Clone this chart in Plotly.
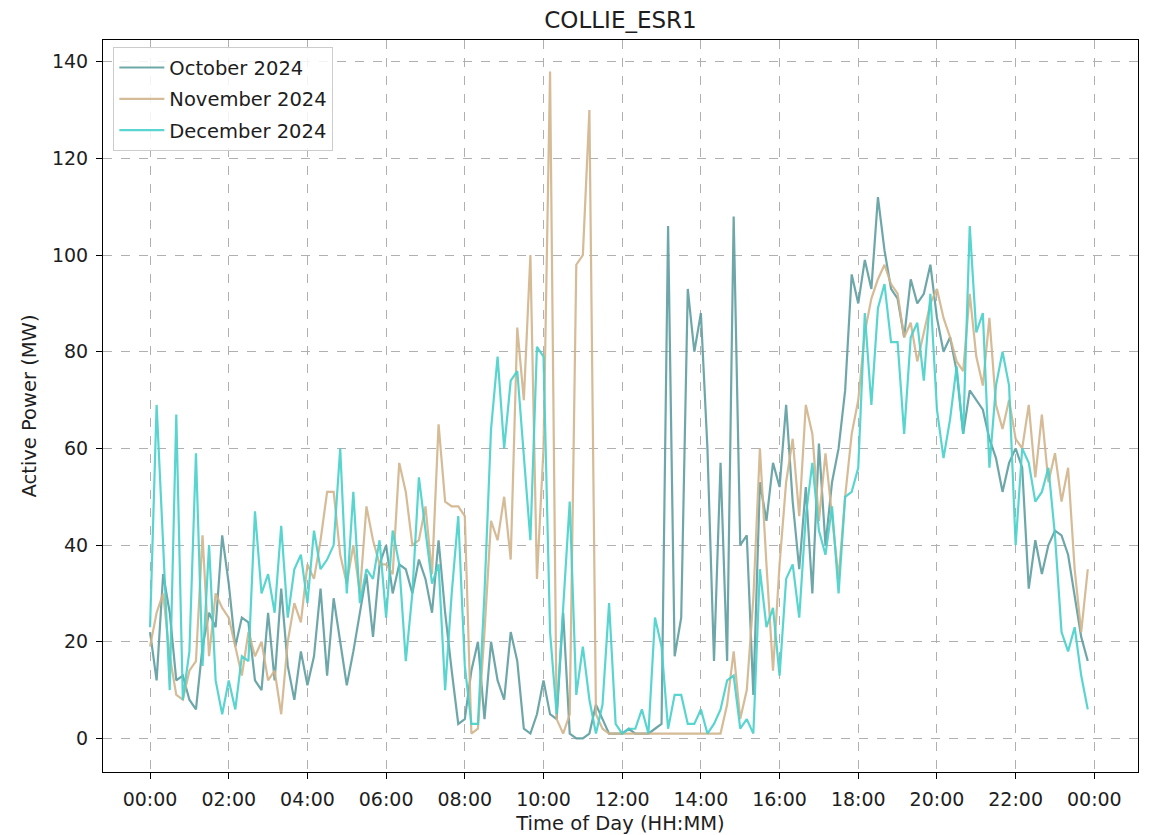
import plotly.graph_objects as go

# 10-minute steps through the day (hours)
minutes = list(range(0, 1440, 10))
hours = [m / 60 for m in minutes]

october = [
    22, 12, 34, 26, 12, 13,
    8, 6, 19, 26, 23, 42,
    32, 19, 25, 24, 12, 10,
    26, 12, 31, 15, 8, 18,
    11, 17, 31, 13, 29, 20,
    11, 18, 26, 34, 21, 36,
    40, 30, 36, 35, 30, 37,
    33, 26, 41, 26, 14, 3,
    4, 14, 20, 4, 20, 12,
    8, 22, 16, 2, 1, 5,
    12, 5, 4, 26, 1, 0,
    0, 1, 7, 4, 1, 1,
    1, 2, 1, 1, 1, 2,
    3, 106, 17, 25, 93, 80,
    88, 60, 16, 57, 16, 108,
    40, 42, 9, 53, 45, 57,
    52, 69, 49, 35, 52, 30,
    61, 40, 53, 60, 72, 96,
    90, 99, 93, 112, 101, 93,
    91, 83, 95, 90, 92, 98,
    87, 80, 83, 76, 63, 72,
    70, 68, 62, 58, 51, 57,
    60, 56, 31, 41, 34, 40,
    43, 42, 38, 29, 21, 16,
]

november = [
    19, 26, 30, 17, 9, 8,
    14, 16, 42, 17, 30, 27,
    25, 19, 13, 22, 17, 20,
    12, 14, 5, 20, 28, 24,
    36, 33, 41, 51, 51, 38,
    32, 40, 30, 48, 41, 36,
    36, 34, 57, 51, 40, 41,
    48, 34, 65, 49, 48, 48,
    46, 1, 2, 22, 45, 41,
    50, 37, 85, 70, 100, 33,
    60, 138, 4, 1, 5, 98,
    100, 130, 5, 2, 1, 1,
    1, 1, 1, 1, 1, 1,
    1, 1, 1, 1, 1, 1,
    1, 1, 1, 1, 7, 18,
    4, 10, 29, 60, 36, 14,
    36, 53, 62, 46, 69, 63,
    45, 59, 46, 33, 50, 63,
    70, 84, 91, 95, 98, 94,
    92, 83, 86, 78, 84, 90,
    93, 87, 83, 78, 76, 92,
    79, 73, 87, 69, 64, 70,
    62, 60, 69, 54, 67, 53,
    59, 49, 56, 35, 22, 35,
]

december = [
    23, 69, 40, 10, 67, 8,
    18, 59, 15, 40, 12, 5,
    12, 6, 17, 16, 47, 30,
    34, 26, 44, 25, 35, 38,
    28, 43, 35, 37, 40, 60,
    30, 51, 28, 35, 33, 41,
    25, 43, 36, 16, 30, 54,
    43, 32, 36, 10, 30, 46,
    15, 3, 3, 30, 64, 79,
    60, 74, 76, 58, 41, 81,
    79, 22, 5, 27, 49, 9,
    19, 8, 1, 7, 28, 3,
    1, 2, 2, 6, 1, 25,
    19, 2, 9, 9, 3, 3,
    6, 1, 3, 6, 12, 13,
    2, 4, 1, 35, 23, 27,
    13, 33, 36, 25, 46, 57,
    43, 38, 48, 30, 50, 51,
    56, 88, 69, 89, 94, 82,
    82, 63, 83, 86, 74, 92,
    68, 58, 66, 77, 63, 106,
    84, 88, 56, 73, 80, 73,
    40, 60, 57, 49, 51, 56,
    42, 22, 18, 23, 13, 6,
]

series_names = ["October 2024", "November 2024", "December 2024"]
series_colors = ["#5F9EA0", "#D2B48C", "#48D1CC"]

tick_vals = list(range(0, 25, 2))
tick_text = ["00:00", "02:00", "04:00", "06:00", "08:00", "10:00", "12:00",
             "14:00", "16:00", "18:00", "20:00", "22:00", "00:00"]
y_ticks = [0, 20, 40, 60, 80, 100, 120, 140]

FONT = "DejaVu Sans"
TXT = "#1e1e1e"
W, H = 1153, 835

fig = go.Figure()
for name, vals, col in zip(series_names, [october, november, december], series_colors):
    fig.add_trace(go.Scatter(
        x=hours, y=vals, mode="lines", name=name, legendgroup=name,
        line=dict(color=col, width=2.2), opacity=0.9,
    ))

axis_common = dict(
    showline=True, linecolor="black", linewidth=1, mirror=True,
    ticks="outside", ticklen=6, tickcolor="black", ticklabelstandoff=4,
    showgrid=True, gridcolor="#b0b0b0", griddash="dash", gridwidth=1,
    zeroline=False, automargin=False,
    tickfont=dict(family=FONT, size=19, color=TXT),
)

fig.update_xaxes(
    range=[-1.196, 25.11], tickmode="array", tickvals=tick_vals, ticktext=tick_text,
    title=dict(text="Time of Day (HH:MM)", font=dict(family=FONT, size=19.5, color=TXT), standoff=8),
    **axis_common,
)
fig.update_yaxes(
    range=[-6.95, 144.5], tickmode="array", tickvals=y_ticks,
    title=dict(text="Active Power (MW)", font=dict(family=FONT, size=19.5, color=TXT), standoff=10),
    **axis_common,
)

fig.update_layout(
    width=W, height=H,
    margin=dict(l=103, r=15, t=40, b=63),
    plot_bgcolor="white", paper_bgcolor="white",
    font=dict(family=FONT, color=TXT),
    title=dict(text="COLLIE_ESR1", x=0.5, xref="paper", xanchor="center",
               y=1 - 20 / H, yref="container", yanchor="middle",
               font=dict(family=FONT, size=23, color=TXT)),
    legend=dict(x=0.01, y=0.99, xanchor="left", yanchor="top",
                bgcolor="rgba(255,255,255,0.85)", bordercolor="#cccccc", borderwidth=1,
                font=dict(family=FONT, size=19.5, color=TXT),
                tracegroupgap=3, itemwidth=45),
    showlegend=True,
)

fig.write_html("out.html", config={"displayModeBar": False},
               post_script="document.body.style.margin='0px';")
